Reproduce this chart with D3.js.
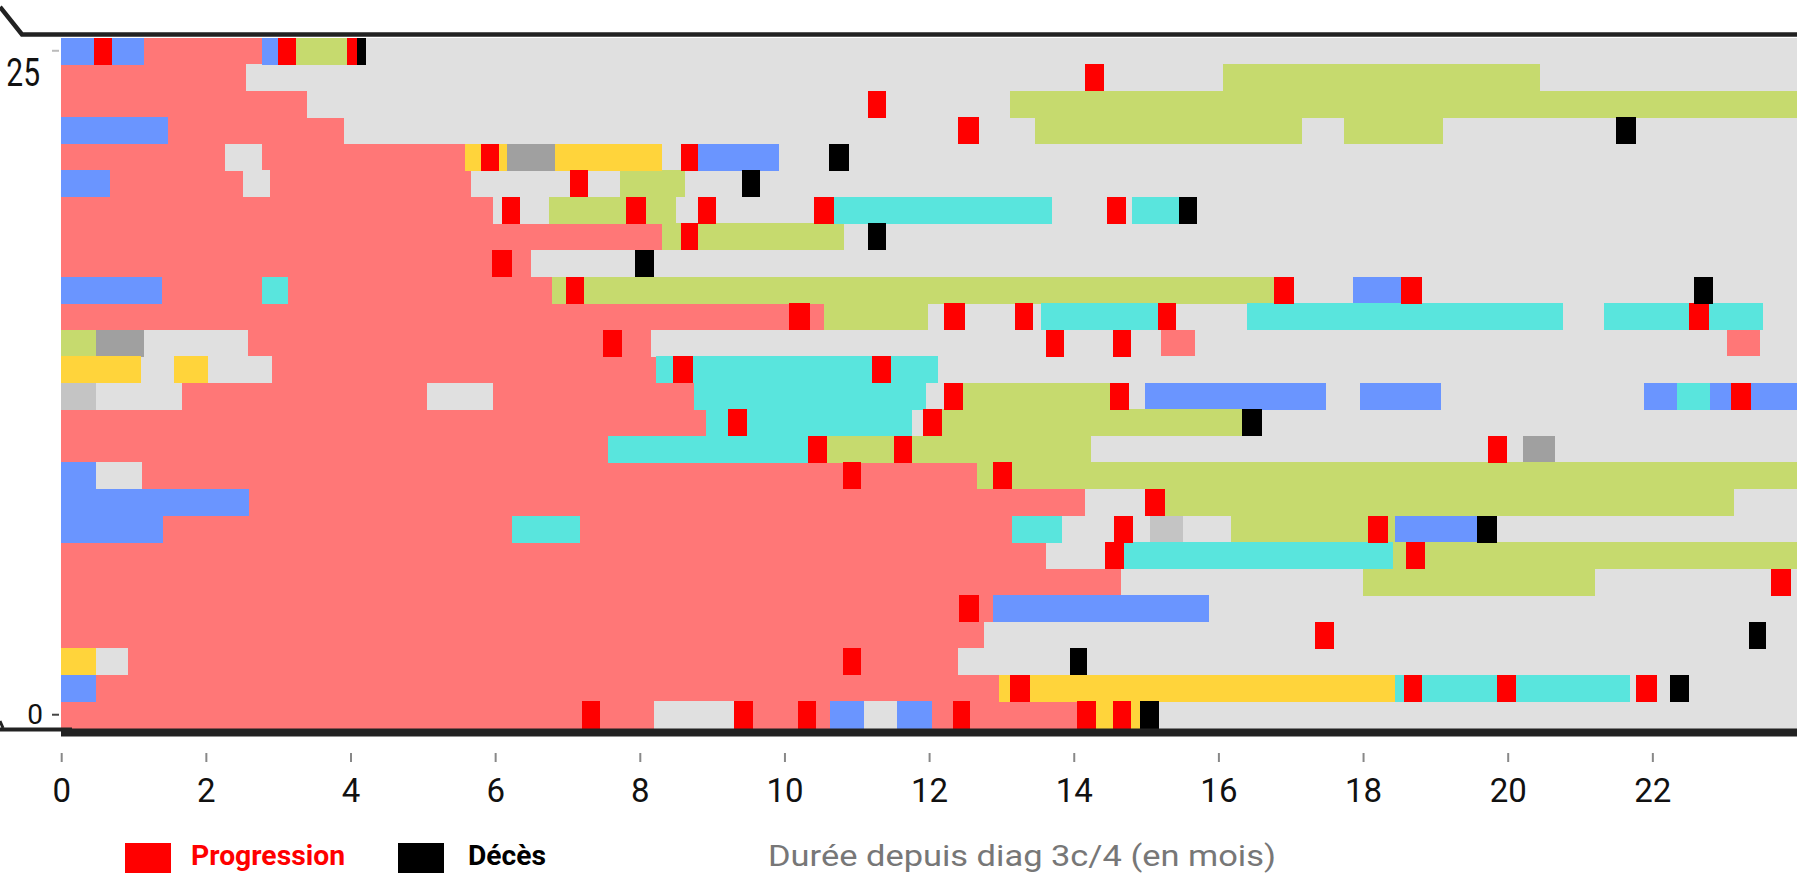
<!DOCTYPE html>
<html><head><meta charset="utf-8">
<script src="https://cdn.jsdelivr.net/npm/d3@7"></script>
<style>html,body{margin:0;padding:0;background:#fff;overflow:hidden}</style>
</head><body>
<svg id="c" width="1811" height="873"></svg>
<script>
// ---- DATA (months since diagnosis) ----
const patients = [25,24,23,22,21,20,19,18,17,16,15,14,13,12,11,10,9,8,7,6,5,4,3,2,1,0];
const xTicks = [0,2,4,6,8,10,12,14,16,18,20,22];
const yTicks = [25,0];
const xLabel = "Durée depuis diag 3c/4 (en mois)";
const legendLabels = ["Progression","Décès"];

// [patient, start, end]
const segSaumon = [
 [25,1.15,2.78],[24,0,2.55],[23,0,3.40],[22,1.48,3.91],
 [21,0,2.26],[21,2.78,5.58],[20,0.67,2.51],[20,2.89,5.67],
 [19,0,5.97],[18,0,8.31],[17,0,6.50],[16,1.40,2.78],[16,3.13,6.79],
 [15,0,10.55],[14,2.58,8.15],[14,15.21,15.67],[14,23.03,23.49],
 [13,2.92,8.22],[12,1.67,5.06],[12,5.97,8.75],[11,0,8.91],[10,0,7.56],
 [9,1.12,12.66],[8,2.60,14.16],[7,1.41,6.23],[7,7.17,13.14],
 [6,0,13.62],[5,0,14.65],[4,0,12.88],[3,0,12.76],[2,0.92,12.40],[1,0.48,12.96],
 [0,0,8.19],[0,9.30,10.63],[0,12.04,14.31]
];
const segGris = [
 [25,4.09,24],[24,2.55,16.07],[24,20.44,24],[23,3.40,13.12],
 [22,3.91,13.47],[22,17.15,17.74],[22,19.11,24],
 [21,2.26,2.78],[21,8.31,8.81],[21,9.92,24],
 [20,2.51,2.89],[20,5.67,7.72],[20,8.63,24],
 [19,5.97,6.75],[19,8.50,10.68],[19,13.70,14.80],[19,15.46,24],
 [18,10.83,24],[17,6.50,24],[16,17.05,17.86],[16,18.81,24],
 [15,11.99,13.55],[15,15.42,16.39],[15,20.77,21.33],[15,23.53,24],
 [14,1.15,2.58],[14,8.15,15.21],[14,15.67,23.03],[14,23.49,24],
 [13,1.11,1.56],[13,2.03,2.92],[13,12.12,24],
 [12,0.48,1.67],[12,5.06,5.97],[12,11.96,12.20],[12,14.76,14.98],[12,17.49,17.96],[12,19.08,21.88],
 [11,11.76,11.91],[11,16.32,24],[10,14.24,20.21],[10,20.66,24],
 [9,0.48,1.12],[8,14.16,15.26],[8,23.13,24],
 [7,13.84,15.06],[7,15.51,16.17],[7,19.58,24],[6,13.62,14.69],
 [5,14.65,18.0],[5,21.21,24],[4,15.87,24],[3,12.76,24],
 [2,0.48,0.92],[2,12.40,24],[1,21.69,24],
 [0,8.19,9.30],[0,11.10,11.55],[0,14.91,24]
];
const segBleu = [
 [25,0,1.15],[25,2.78,3.25],[22,0,1.48],[21,8.81,9.92],[20,0,0.67],
 [16,0,1.40],[16,17.86,18.81],
 [12,14.98,17.49],[12,17.96,19.08],[12,21.88,22.34],[12,22.80,24],
 [9,0,0.48],[8,0,2.60],[7,0,1.41],[7,18.44,19.58],[4,12.88,15.87],
 [1,0,0.48],[0,10.63,11.10],[0,11.55,12.04]
];
const segVert = [
 [25,3.25,4.09],[24,16.07,20.44],[23,13.12,24],[22,13.47,17.15],[22,17.74,19.11],
 [20,7.72,8.63],[19,6.75,8.50],[18,8.31,10.83],[16,6.79,17.05],[15,10.55,11.99],
 [14,0,0.48],[12,12.20,14.76],[11,11.91,16.32],[10,10.33,14.24],[9,12.66,24],
 [8,15.26,23.13],[7,16.17,18.44],[6,18.42,24],[5,18.0,21.21]
];
const segCyan = [
 [19,10.68,13.70],[19,14.80,15.46],[16,2.78,3.13],
 [15,13.55,15.42],[15,16.39,20.77],[15,21.33,23.53],
 [13,8.22,12.12],[12,8.75,11.96],[12,22.34,22.80],[11,8.91,11.76],[10,7.56,10.33],
 [7,6.23,7.17],[7,13.14,13.84],[6,14.69,18.42],[1,18.44,21.69]
];
const segJaune = [
 [21,5.58,6.17],[21,6.83,8.31],[13,0,1.11],[13,1.56,2.03],[2,0,0.48],
 [1,12.96,18.44],[0,14.31,14.91]
];
const segGrisFonce = [[21,6.17,6.83],[14,0.48,1.15],[10,20.21,20.66]];
const segGrisClair = [[12,0,0.48],[7,15.06,15.51]];
const progression = [
 [25,0.45,0.70],[25,3.00,3.25],[25,3.95,4.09],[24,14.16,14.42],[23,11.15,11.40],
 [22,12.40,12.69],[21,5.80,6.05],[21,8.57,8.81],[20,7.04,7.28],
 [19,6.09,6.35],[19,7.81,8.08],[19,8.81,9.05],[19,10.41,10.68],[19,14.46,14.72],
 [18,8.57,8.81],[17,5.95,6.23],[16,6.98,7.23],[16,16.77,17.05],[16,18.52,18.81],
 [15,10.06,10.36],[15,12.21,12.49],[15,13.19,13.43],[15,15.17,15.42],[15,22.50,22.79],
 [14,7.49,7.75],[14,13.61,13.87],[14,14.54,14.79],[13,8.46,8.73],[13,11.21,11.48],
 [12,12.20,12.47],[12,14.50,14.76],[12,23.09,23.36],[11,9.22,9.48],[11,11.91,12.18],
 [10,10.33,10.59],[10,11.52,11.76],[10,19.73,19.99],[9,10.81,11.06],[9,12.88,13.14],
 [8,14.98,15.26],[7,14.55,14.82],[7,18.07,18.34],[6,14.43,14.69],[6,18.60,18.86],
 [5,23.64,23.92],[4,12.41,12.69],[3,17.34,17.60],[2,10.81,11.06],
 [1,13.12,13.39],[1,18.56,18.82],[1,19.85,20.11],[1,21.78,22.06],
 [0,7.20,7.45],[0,9.30,9.56],[0,10.19,10.44],[0,12.33,12.57],[0,14.04,14.31],[0,14.54,14.79]
];
const deces = [
 [25,4.09,4.21],[22,21.50,21.78],[21,10.62,10.89],[20,9.41,9.66],[19,15.46,15.71],
 [18,11.15,11.40],[17,7.93,8.20],[16,22.58,22.84],[11,16.32,16.60],[7,19.58,19.85],
 [3,23.33,23.57],[2,13.95,14.18],[1,22.25,22.50],[0,14.91,15.18]
];

// ---- DRAW ----
const svg = d3.select('#c');
const x = d3.scaleLinear().domain([0,24]).range([61.2,1797]);
const y = d3.scaleBand().domain(patients).range([37.5,728]).padding(0);

const layers = [
 [segSaumon,'#FF7777'],[segGris,'#E0E0E0'],[segGrisClair,'#C4C4C4'],[segGrisFonce,'#A0A0A0'],
 [segBleu,'#6A95FF'],[segVert,'#C6DA6E'],[segCyan,'#59E5DD'],[segJaune,'#FFD43B'],
 [progression,'#FF0000'],[deces,'#000000']
];
const plot = svg.append('g').attr('shape-rendering','crispEdges');
layers.forEach(([data,col])=>{
  plot.append('g').selectAll('rect').data(data).join('rect')
    .attr('x',d=>x(d[1])).attr('width',d=>Math.max(0,x(d[2])-x(d[1])))
    .attr('y',d=>y(d[0])).attr('height',y.bandwidth()+0.5)
    .attr('fill',col);
});

// frame lines
svg.append('path').attr('d','M0,7 L22,34.5 L1797,34.5').attr('fill','none')
  .attr('stroke','#222').attr('stroke-width',4.5);
svg.append('line').attr('x1',61).attr('x2',1797).attr('y1',732.5).attr('y2',732.5)
  .attr('stroke','#222').attr('stroke-width',8);
svg.append('line').attr('x1',0).attr('x2',72).attr('y1',729.5).attr('y2',729.5)
  .attr('stroke','#222').attr('stroke-width',4);
svg.append('line').attr('x1',0).attr('x2',3).attr('y1',721).attr('y2',728)
  .attr('stroke','#222').attr('stroke-width',3);

// x axis
const xAxis = svg.append('g').attr('transform','translate(0,753)')
  .call(d3.axisBottom(x).tickValues(xTicks).tickSize(9).tickPadding(17).tickFormat(d3.format('d')));
xAxis.select('.domain').remove();
xAxis.selectAll('.tick line').attr('stroke','#888').attr('stroke-width',2);
xAxis.selectAll('.tick text').attr('font-family','Roboto').attr('font-size',33).attr('fill','#111');

// y axis
const yAxis = svg.append('g').attr('transform','translate(59,0)')
  .call(d3.axisLeft(y).tickValues(yTicks).tickSize(7).tickPadding(9));
yAxis.select('.domain').remove();
yAxis.selectAll('.tick line').attr('stroke',d=>d===0?'#444':'#bbb').attr('stroke-width',2);
yAxis.selectAll('.tick text').attr('font-family','Roboto').attr('fill','#111')
  .attr('font-size',d=>d===0?28:30)
  .attr('x',d=>d===0?-16:-19)
  .attr('dy',d=>d===0?'0.32em':'0')
  .attr('transform',d=>d===0?null:'translate(0,35) scale(1,1.27)');

// x label
svg.append('text').attr('x',768).attr('y',866).attr('font-family','Roboto')
  .attr('font-size',30).attr('fill','#777').attr('textLength',508).attr('lengthAdjust','spacingAndGlyphs')
  .text(xLabel);

// legend
const leg = [[125,191,'#FF0000',154],[398,468,'#000000',78]];
legendLabels.forEach((t,i)=>{
  const [rx,tx,col,w] = leg[i];
  svg.append('rect').attr('x',rx).attr('y',843).attr('width',46).attr('height',46).attr('fill',col);
  svg.append('text').attr('x',tx).attr('y',865).attr('font-family','Roboto').attr('font-weight','bold')
    .attr('font-size',27).attr('fill',col).attr('textLength',w).attr('lengthAdjust','spacingAndGlyphs').text(t);
});
</script>
</body></html>
